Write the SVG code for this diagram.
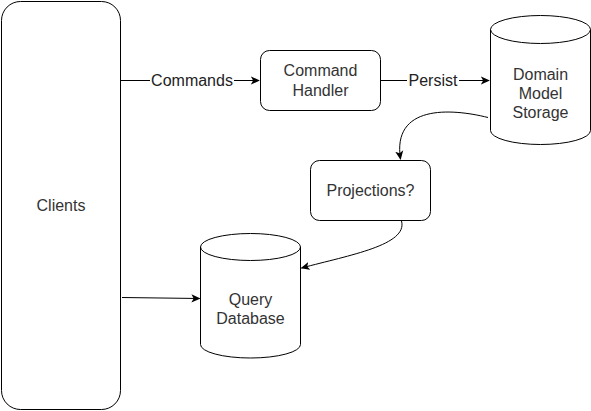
<svg xmlns="http://www.w3.org/2000/svg" width="591" height="411" viewBox="0 0 591 411">
<style>
.n{fill:#fff;stroke:#000;stroke-width:1}
.t{font-family:"Liberation Sans",Arial,sans-serif;font-size:16px;fill:#333;text-anchor:middle}
.e{fill:none;stroke:#000;stroke-width:1}
.lb{font-family:"Liberation Sans",Arial,sans-serif;font-size:16px;fill:#222;text-anchor:middle}
</style>
<defs>
<marker id="ah" viewBox="0 0 10 10" refX="9" refY="5" markerWidth="9" markerHeight="9" markerUnits="userSpaceOnUse" orient="auto">
<path d="M0,0.5 L10,5 L0,9.5 L2.5,5 z" fill="#000"/>
</marker>
</defs>
<rect width="591" height="411" fill="#fff"/>
<g id="clients">
<rect class="n" x="1.5" y="1.5" width="119" height="408" rx="19"/>
<text class="t" x="61" y="211">Clients</text>
</g>
<g id="command-handler">
<rect class="n" x="260.5" y="50.5" width="120" height="60" rx="9"/>
<text class="t" x="320.5" y="76">Command</text>
<text class="t" x="320.5" y="96">Handler</text>
</g>
<g id="domain-model-storage">
<path class="n" d="M490.5,29.5 A50,14 0 0 1 590.5,29.5 L590.5,130.5 A50,14 0 0 1 490.5,130.5 Z"/>
<path class="e" d="M490.5,29.5 A50,14 0 0 0 590.5,29.5"/>
<text class="t" x="540.5" y="80">Domain</text>
<text class="t" x="540.5" y="99">Model</text>
<text class="t" x="540.5" y="118">Storage</text>
</g>
<g id="projections">
<rect class="n" x="310.5" y="160.5" width="120" height="60" rx="9"/>
<text class="t" x="370.5" y="196">Projections?</text>
</g>
<g id="query-database">
<path class="n" d="M200.5,247 A50,13.5 0 0 1 300.5,247 L300.5,344.5 A50,13.5 0 0 1 200.5,344.5 Z"/>
<path class="e" d="M200.5,247 A50,13.5 0 0 0 300.5,247"/>
<text class="t" x="250.5" y="305">Query</text>
<text class="t" x="250.5" y="324">Database</text>
</g>
<g id="connectors">
<path class="e" d="M121,80.5 L259,80.5" marker-end="url(#ah)"/>
<rect x="150" y="70" width="84" height="20" fill="#fff"/>
<text class="lb" x="192" y="86">Commands</text>
<path class="e" d="M381,80.5 L489,80.5" marker-end="url(#ah)"/>
<rect x="407" y="70" width="52" height="20" fill="#fff"/>
<text class="lb" x="433" y="86">Persist</text>
<path class="e" d="M488,117.5 C450,108 392,105 400.5,159" marker-end="url(#ah)"/>
<path class="e" d="M401.5,221 C408,245 350,255 301.5,268" marker-end="url(#ah)"/>
<path class="e" d="M122,297.5 L199.5,298.5" marker-end="url(#ah)"/>
</g>
</svg>
